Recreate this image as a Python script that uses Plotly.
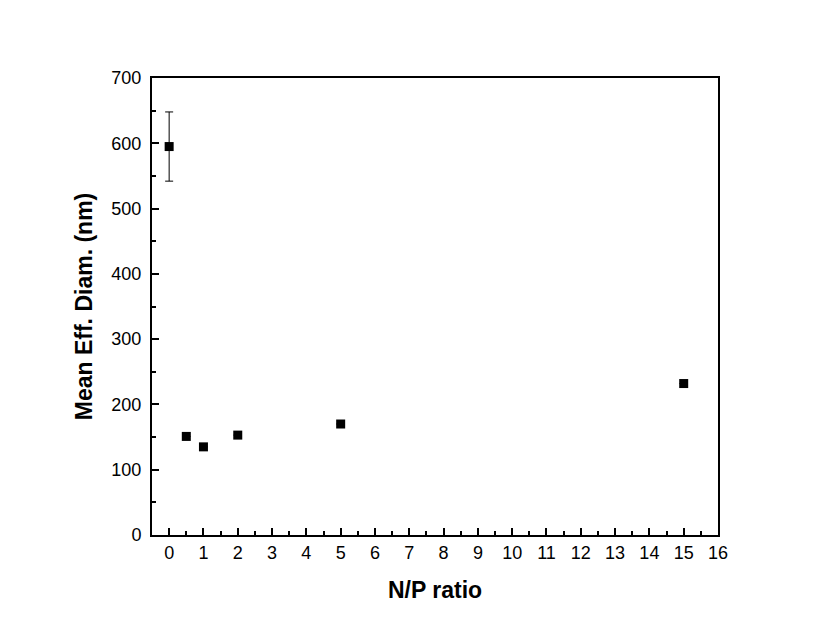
import plotly.graph_objects as go

np_ratio = [0, 0.5, 1, 2, 5, 15]
diam = [595, 151, 135, 153, 170, 232]
err = [53, 0, 0, 0, 0, 0]

fig = go.Figure()
fig.add_trace(go.Scatter(
    x=np_ratio, y=diam, mode="markers",
    marker=dict(symbol="square", size=9, color="black"),
    error_y=dict(type="data", array=err, visible=True, color="black", thickness=1, width=4),
    showlegend=False,
))

FONT = "Arial, Liberation Sans"
axis_common = dict(
    showline=True, linecolor="black", linewidth=2, mirror=True,
    ticks="inside", ticklen=7, tickwidth=1.5, tickcolor="black",
    showgrid=False, zeroline=False,
    tickfont=dict(family=FONT, size=18, color="black"),
    minor=dict(ticks="inside", ticklen=4, tickwidth=1.5, tickcolor="black"),
)

fig.update_layout(
    width=822, height=635,
    margin=dict(l=152, r=104, t=78, b=100),
    paper_bgcolor="white", plot_bgcolor="white",
    xaxis=dict(range=[-0.5, 16], tickmode="linear", tick0=0, dtick=1,
               title=dict(text="<b>N/P ratio</b>", font=dict(family=FONT, size=23, color="black"), standoff=20),
               **axis_common),
    yaxis=dict(range=[0, 700], tickmode="linear", tick0=0, dtick=100,
               ticklabelstandoff=5,
               title=dict(text="<b>Mean Eff. Diam. (nm)</b>", font=dict(family=FONT, size=23, color="black"), standoff=12),
               **axis_common),
)
fig.update_xaxes(minor=dict(dtick=0.5))
fig.update_yaxes(minor=dict(dtick=50))

fig.write_html("out.html")
